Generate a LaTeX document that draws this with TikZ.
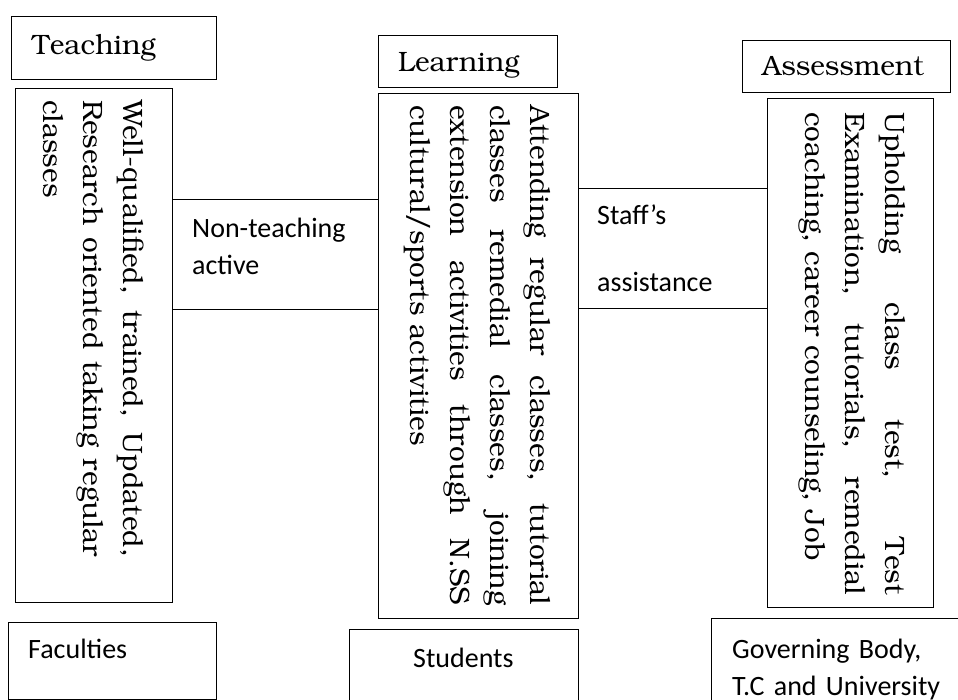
\documentclass[tikz,border=0pt]{standalone}
\usepackage[T1]{fontenc}
\usepackage{fontspec}
\usepackage{tikz}
\newfontfamily\calibri{Carlito}
\newcommand{\bkfont}{\fontencoding{T1}\fontfamily{pbk}\selectfont}

\begin{document}
\begin{tikzpicture}
    [x=1pt,y=-1pt,
    box/.style={draw,line width=1.3pt,rectangle,inner sep=0pt,anchor=north west},
    lbl/.style={anchor=base west,inner sep=0pt},
    serif/.style={font=\bkfont\fontsize{28}{40}\selectfont},
    sans/.style={font=\calibri\fontsize{28}{37}\selectfont},
    vtext/.style={lbl,serif,rotate=-90,align=justify}]

\useasboundingbox (0,0) rectangle (958,700);

%boxes
\node[box,minimum width=205pt,minimum height=63pt] (teachbox) at (11,16) {};
\node[box,minimum width=157pt,minimum height=514pt] (facultybox) at (15,88) {};
\node[box,minimum width=206pt,minimum height=110pt] (nonteachbox) at (172,199) {};
\node[box,minimum width=179pt,minimum height=52pt] (learnbox) at (378,35) {};
\node[box,minimum width=200pt,minimum height=525pt] (studentbox) at (378,93) {};
\node[box,minimum width=189pt,minimum height=120pt] (staffbox) at (578,188) {};
\node[box,minimum width=208pt,minimum height=52pt] (assessbox) at (742,40) {};
\node[box,minimum width=166pt,minimum height=509pt] (govbox) at (767,98) {};
\node[box,minimum width=208pt,minimum height=77pt] (faclabel) at (8,622) {};
\node[box,minimum width=229pt,minimum height=74pt] (studlabel) at (349,629) {};
\node[box,minimum width=251pt,minimum height=85pt] (govlabel) at (711,618) {};

%headings
\node[lbl,serif] (teach) at (32,55) {Teaching};
\node[lbl,serif] (learn) at (398,72) {Learning};
\node[lbl,serif] (assess) at (762,76) {Assessment};

%rotated texts
\node[vtext,text width=457pt] (facultytext) at (123,100)
    {Well-qualified, trained, Updated,\linebreak Research oriented taking regular\linebreak classes};
\node[vtext,text width=500pt] (studenttext) at (530,105)
    {Attending regular classes, tutorial\linebreak classes remedial classes, joining\linebreak extension activities through N.SS\linebreak cultural/sports activities};
\node[vtext,text width=483pt] (govtext) at (885,112)
    {\parfillskip=0pt Upholding class test, Test\linebreak Examination, tutorials, remedial\linebreak coaching, career counseling, Job};

%side labels
\node[lbl,sans,text width=180pt,align=left] (nonteach) at (192,238) {Non-teaching\\active};
\node[lbl,font=\calibri\fontsize{28}{67}\selectfont,text width=165pt,align=left] (staff) at (597,225) {Staff’s\\assistance};
\node[lbl,sans] (fac) at (28,658) {Faculties};
\node[lbl,sans] (stud) at (413,667) {Students};
\node[lbl,sans,text width=225pt,align=left] (gov) at (732,658) {Governing Body,\\T.C and University};

\end{tikzpicture}
\end{document}
